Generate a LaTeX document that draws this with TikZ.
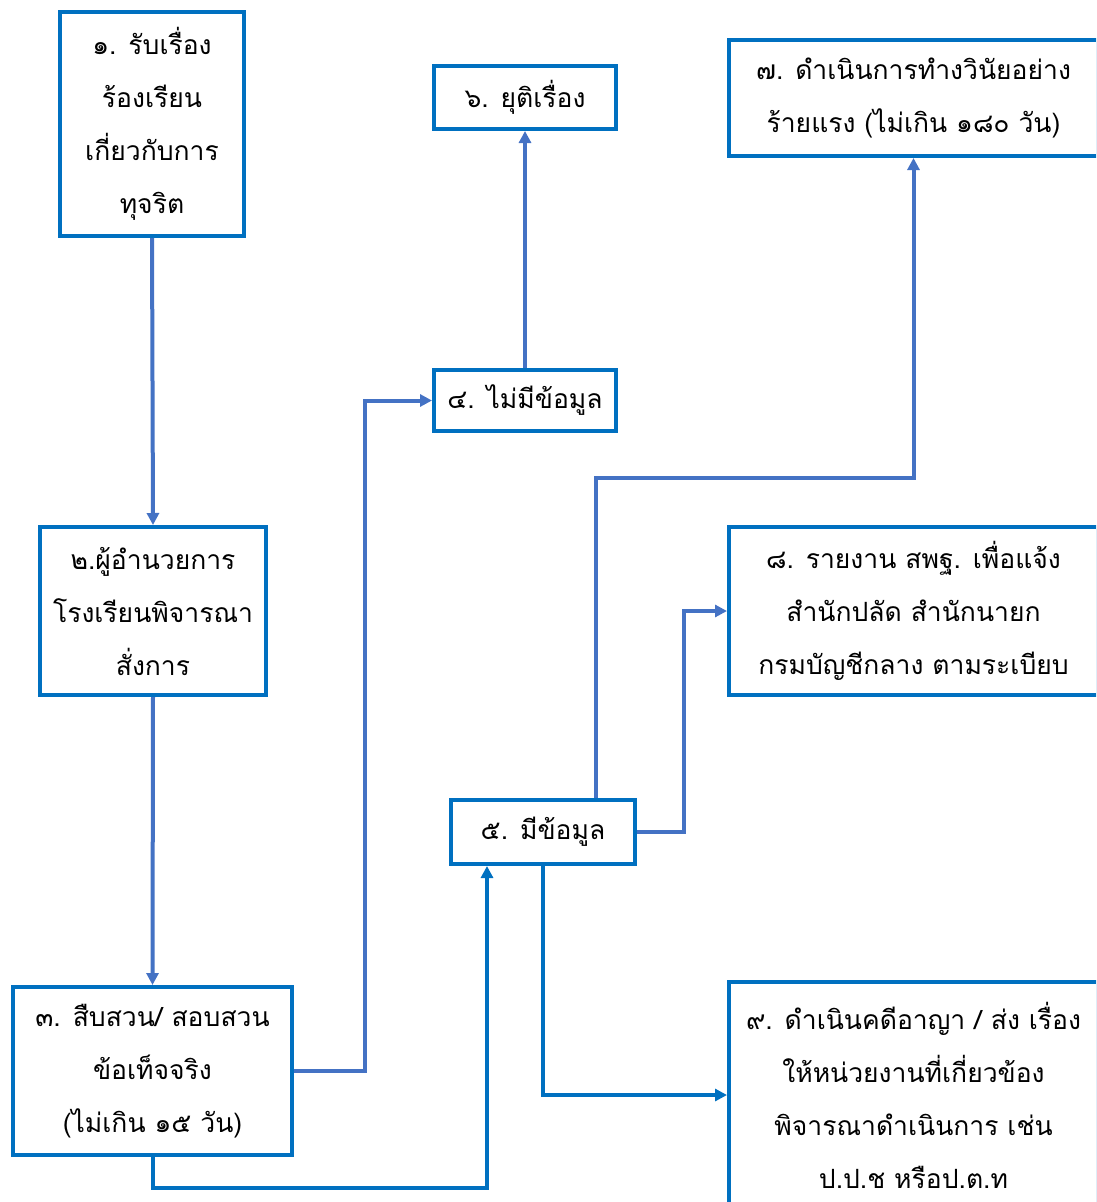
\documentclass[tikz,border=0pt]{standalone}
\usepackage{fontspec}
\newfontfamily\thaifont[Script=Thai]{Loma}
\usepackage{tikz}
\usetikzlibrary{arrows.meta}
\definecolor{boxblue}{HTML}{0070C0}
\definecolor{linkblue}{HTML}{4472C4}

\begin{document}
\begin{tikzpicture}[x=1pt,y=-1pt,>={Triangle[length=12pt,width=12pt]},
  box/.style={draw=boxblue,line width=4pt,rectangle,inner sep=0pt,align=center,
    font=\thaifont\fontsize{26.5}{53}\selectfont},
  link/.style={draw=linkblue,line width=4pt},
  darklink/.style={draw=boxblue,line width=4pt}]
\useasboundingbox (0,0) rectangle (1096,1202);
\clip (0,0) rectangle (1096,1202);

% define the boxes
  \node[box,minimum width=184pt,minimum height=224pt] (b1) at (152,124)
{๑. รับเรื่อง\\ร้องเรียน\\เกี่ยวกับการ\\ทุจริต};
  \node[box,minimum width=226pt,minimum height=168pt] (b2) at (153,611)
{๒.ผู้อำนวยการ\\โรงเรียนพิจารณา\\สั่งการ};
  \node[box,minimum width=279pt,minimum height=168pt] (b3) at (152.5,1071)
{๓. สืบสวน/ สอบสวน\\ข้อเท็จจริง\\(ไม่เกิน ๑๕ วัน)};
  \node[box,minimum width=182pt,minimum height=61pt] (b4) at (525,400.5)
{๔. ไม่มีข้อมูล};
  \node[box,minimum width=184pt,minimum height=64pt] (b5) at (543,832)
{๕. มีข้อมูล};
  \node[box,minimum width=182pt,minimum height=63pt] (b6) at (525,97.5)
{๖. ยุติเรื่อง};
  \node[box,minimum width=369pt,minimum height=116pt] (b7) at (913.5,98)
{๗. ดำเนินการทำงวินัยอย่าง\\ร้ายแรง (ไม่เกิน ๑๘๐ วัน)};
  \node[box,minimum width=369pt,minimum height=168pt] (b8) at (913.5,611)
{๘. รายงาน สพฐ. เพื่อแจ้ง\\สำนักปลัด สำนักนายก\\กรมบัญชีกลาง ตามระเบียบ};
  \node[box,minimum width=369pt,minimum height=226pt] (b9) at (913.5,1095)
{๙. ดำเนินคดีอาญา / ส่ง เรื่อง\\ให้หน่วยงานที่เกี่ยวข้อง\\พิจารณาดำเนินการ เช่น\\ป.ป.ช หรือป.ต.ท};

% define the links
  \draw[link,->] (b1.south) -- (b2.north);
  \draw[link,->] (b2.south) -- (b3.north);
  \draw[link,->] (b3.east) -- ++(71,0) |- (b4.west);
  \draw[link,->] (b4.north) -- (b6.south);
  \draw[link,->] ([xshift=53pt]b5.north) -- ++(0,-320) -| (b7.south);
  \draw[link,->] (b5.east) -- ++(47,0) |- (b8.west);
  \draw[darklink,->] (b3.south) -- ++(0,31) -| ([xshift=-56pt]b5.south);
  \draw[darklink,->] (b5.south) |- (b9.west);
\end{tikzpicture}
\end{document}
